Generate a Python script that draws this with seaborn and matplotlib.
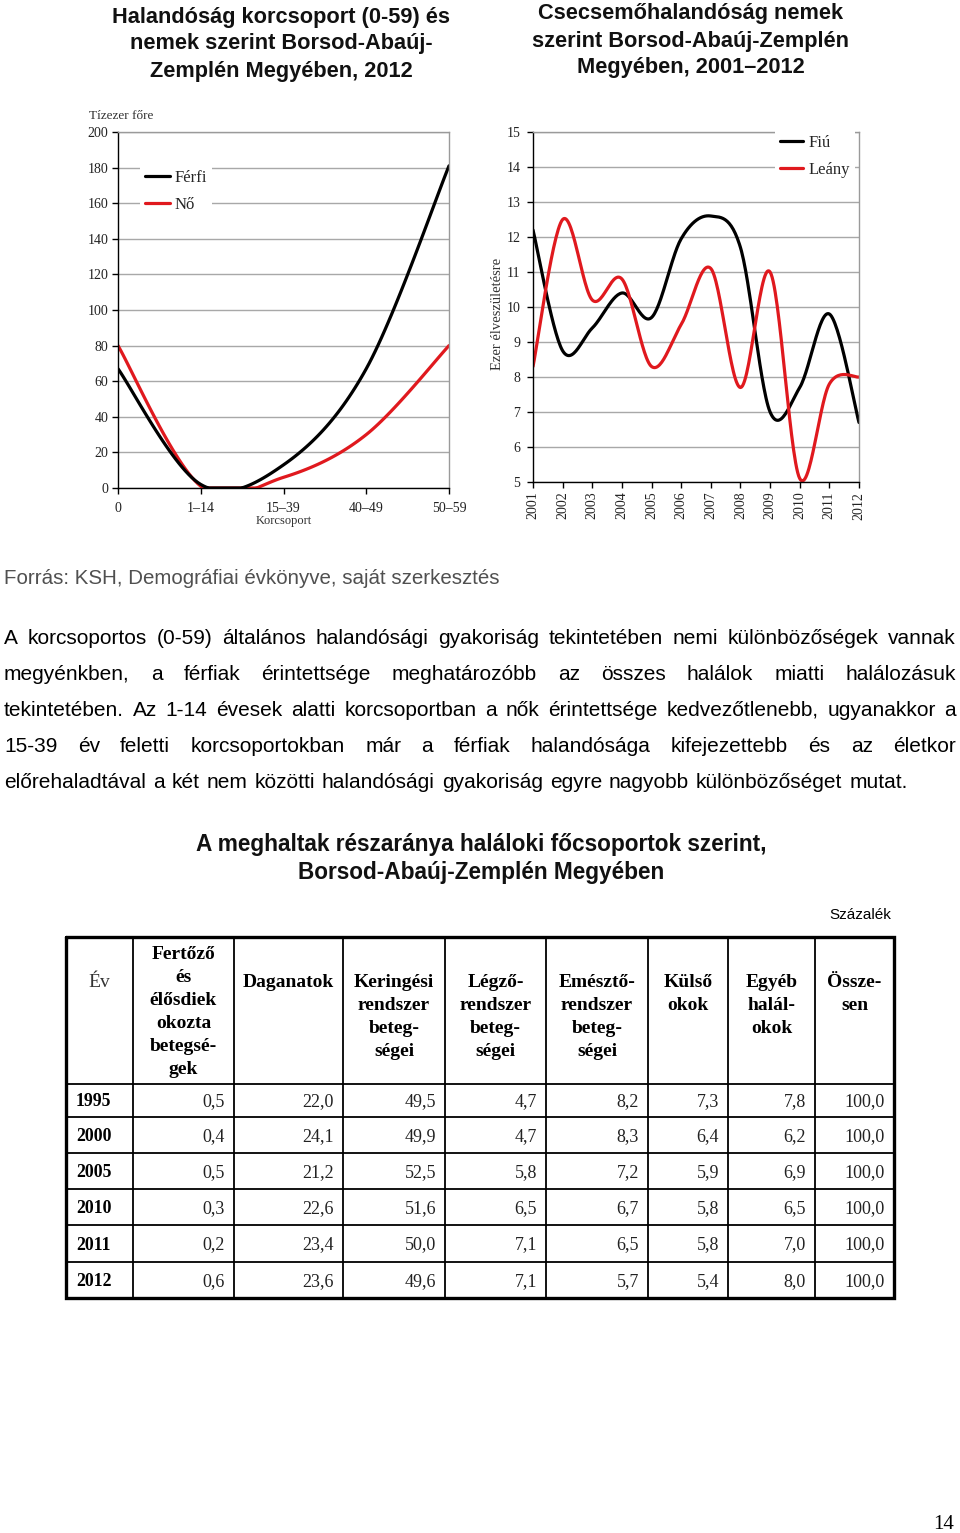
import numpy as np
import pandas as pd
import matplotlib
matplotlib.use("Agg")
import matplotlib.pyplot as plt
import seaborn as sns
from matplotlib.lines import Line2D

# ---------------- data ----------------
age_groups = ["0", "1–14", "15–39", "40–49", "50–59"]
ferfi = [67, 2, 13, 67, 181]
no_vals = [80, 1, 6, 30, 80]

years = [2001, 2002, 2003, 2004, 2005, 2006, 2007, 2008, 2009, 2010, 2011, 2012]
fiu = [12.2, 8.75, 9.4, 10.4, 9.7, 11.95, 12.6, 11.7, 7.0, 7.7, 9.8, 6.7]
leany = [8.3, 12.5, 10.2, 10.8, 8.3, 9.5, 11.1, 7.7, 11.0, 5.1, 7.8, 8.0]

table_years = ["1995", "2000", "2005", "2010", "2011", "2012"]
fertozo = [0.5, 0.4, 0.5, 0.3, 0.2, 0.6]
daganatok = [22.0, 24.1, 21.2, 22.6, 23.4, 23.6]
keringesi = [49.5, 49.9, 52.5, 51.6, 50.0, 49.6]
legzo = [4.7, 4.7, 5.8, 6.5, 7.1, 7.1]
emeszto = [8.2, 8.3, 7.2, 6.7, 6.5, 5.7]
kulso = [7.3, 6.4, 5.9, 5.8, 5.8, 5.4]
egyeb = [7.8, 6.2, 6.9, 6.5, 7.0, 8.0]
osszesen = [100.0, 100.0, 100.0, 100.0, 100.0, 100.0]

header_labels = [
    ["Év"],
    ["Fertőző", "és", "élősdiek", "okozta", "betegsé-", "gek"],
    ["Daganatok"],
    ["Keringési", "rendszer", "beteg-", "ségei"],
    ["Légző-", "rendszer", "beteg-", "ségei"],
    ["Emésztő-", "rendszer", "beteg-", "ségei"],
    ["Külső", "okok"],
    ["Egyéb", "halál-", "okok"],
    ["Össze-", "sen"],
]

paragraph = [
    "A korcsoportos (0-59) általános halandósági gyakoriság tekintetében nemi különbözőségek vannak",
    "megyénkben, a férfiak érintettsége meghatározóbb az összes halálok miatti halálozásuk",
    "tekintetében. Az 1-14 évesek alatti korcsoportban a nők érintettsége kedvezőtlenebb, ugyanakkor a",
    "15-39 év feletti korcsoportokban már a férfiak halandósága kifejezettebb és az életkor",
    "előrehaladtával a két nem közötti halandósági gyakoriság egyre nagyobb különbözőséget mutat.",
]

# ---------------- style ----------------
sns.set_theme(style="white")
SERIF = ["Liberation Serif", "DejaVu Serif"]
SANS = ["Liberation Sans", "DejaVu Sans"]
plt.rcParams["font.family"] = SERIF
RED = "#e0191e"
GRID = "#a8a8a8"


def smooth(xs, ys, n=30):
    """Excel-like smoothed line (Catmull-Rom bezier) through the data points."""
    P = np.column_stack([np.asarray(xs, float), np.asarray(ys, float)])
    m = len(P)
    out = []
    for i in range(m - 1):
        p0 = P[i - 1] if i > 0 else P[i]
        p1, p2 = P[i], P[i + 1]
        p3 = P[i + 2] if i + 2 < m else P[i + 1]
        c1 = p1 + (p2 - p0) / 6
        c2 = p2 - (p3 - p1) / 6
        t = np.linspace(0, 1, n)[:, None]
        seg = (1 - t) ** 3 * p1 + 3 * (1 - t) ** 2 * t * c1 + 3 * (1 - t) * t ** 2 * c2 + t ** 3 * p2
        out.append(seg if i == 0 else seg[1:])
    s = np.vstack(out)
    return s[:, 0], s[:, 1]


W, H = 960, 1533
fig = plt.figure(figsize=(W / 100, H / 100), dpi=100)
fig.patch.set_facecolor("white")

bg = fig.add_axes([0, 0, 1, 1])
bg.set_xlim(0, W)
bg.set_ylim(H, 0)
bg.axis("off")


def fig_rect(x0, y0, x1, y1):
    return [x0 / W, 1 - y1 / H, (x1 - x0) / W, (y1 - y0) / H]


def style_axes(ax):
    for s in ["left", "bottom"]:
        ax.spines[s].set_color("black")
        ax.spines[s].set_linewidth(1.0)
    for s in ["top", "right"]:
        ax.spines[s].set_color("#9a9a9a")
        ax.spines[s].set_linewidth(1.0)
    ax.grid(axis="y", color=GRID, lw=1.0)
    ax.grid(axis="x", visible=False)
    ax.set_axisbelow(True)
    ax.tick_params(axis="both", which="both", direction="out", length=4, width=1,
                   color="black", labelsize=10, labelcolor="#222222", bottom=True, left=True)


LEG_KW = dict(loc="upper left", bbox_transform=fig.transFigure, frameon=True,
              facecolor="white", edgecolor="none", framealpha=1, fancybox=False,
              fontsize=12, handletextpad=0.3, labelspacing=0.68, borderpad=0.3,
              borderaxespad=0)

# ---------------- left chart ----------------
ax1 = fig.add_axes(fig_rect(118, 132, 449, 488))
xpos = np.arange(len(age_groups))
sx, sy = smooth(xpos, ferfi)
df_f = pd.DataFrame({"x": sx, "y": np.maximum(sy, 0)})
sx, sy = smooth(xpos, no_vals)
df_n = pd.DataFrame({"x": sx, "y": np.maximum(sy, 0)})
sns.lineplot(data=df_n, x="x", y="y", ax=ax1, color=RED, lw=2.3, sort=False, estimator=None)
sns.lineplot(data=df_f, x="x", y="y", ax=ax1, color="black", lw=2.3, sort=False, estimator=None)
ax1.set_xlim(0, 4)
ax1.set_ylim(0, 200)
ax1.set_yticks(np.arange(0, 201, 20))
ax1.set_xticks(xpos)
ax1.set_xticklabels(age_groups)
style_axes(ax1)
ax1.tick_params(axis="y", pad=3)
ax1.tick_params(axis="x", pad=6)
ax1.set_xlabel("Korcsoport", fontsize=9, labelpad=0, color="#333333")
ax1.set_ylabel("")
ax1.text(-0.088, 1.045, "Tízezer főre", transform=ax1.transAxes, ha="left", va="center",
         fontsize=9.5, color="#333333")
h1 = [Line2D([], [], color="black", lw=2.3), Line2D([], [], color=RED, lw=2.3)]
ax1.legend(h1, ["Férfi", "Nő"], bbox_to_anchor=(140 / W, 1 - 165 / H), handlelength=1.5,
           **LEG_KW)

# ---------------- right chart ----------------
ax2 = fig.add_axes(fig_rect(533, 132, 859, 482))
sx, sy = smooth(years, fiu)
df_b = pd.DataFrame({"x": sx, "y": sy})
sx, sy = smooth(years, leany)
df_g = pd.DataFrame({"x": sx, "y": sy})
sns.lineplot(data=df_b, x="x", y="y", ax=ax2, color="black", lw=2.3, sort=False, estimator=None)
sns.lineplot(data=df_g, x="x", y="y", ax=ax2, color=RED, lw=2.3, sort=False, estimator=None)
ax2.set_xlim(2001, 2012)
ax2.set_ylim(5, 15)
ax2.set_yticks(np.arange(5, 16, 1))
ax2.set_xticks(years)
ax2.set_xticklabels([str(y) for y in years], rotation=90)
style_axes(ax2)
ax2.tick_params(axis="y", pad=5)
ax2.tick_params(axis="x", pad=3)
ax2.set_xlabel("")
ax2.set_ylabel("Ezer élveszületésre", fontsize=10.5, color="#333333")
ax2.yaxis.set_label_coords(-0.088, 0.48)
h2 = [Line2D([], [], color="black", lw=2.3), Line2D([], [], color=RED, lw=2.3)]
ax2.legend(h2, ["Fiú", "Leány"], bbox_to_anchor=(775 / W, 1 - 130 / H), handlelength=1.4,
           **LEG_KW)

# ---------------- titles ----------------
t_left = ["Halandóság korcsoport (0-59) és", "nemek szerint Borsod-Abaúj-", "Zemplén Megyében, 2012"]
for s, y in zip(t_left, [16, 42, 69]):
    bg.text(281, y + 7.5, s, ha="center", va="baseline", fontsize=15.7, fontweight="bold",
            family=SANS, color="#111111")
t_right = ["Csecsemőhalandóság nemek", "szerint Borsod-Abaúj-Zemplén", "Megyében, 2001–2012"]
for s, y in zip(t_right, [12, 39, 65]):
    bg.text(691, y + 7.5, s, ha="center", va="baseline", fontsize=15.7, fontweight="bold",
            family=SANS, color="#111111")

bg.text(4, 584, "Forrás: KSH, Demográfiai évkönyve, saját szerkesztés", ha="left", va="baseline",
        fontsize=14.8, family=SANS, color="#505050")

# ---------------- justified paragraph ----------------
renderer = fig.canvas.get_renderer()
para_y = [637, 673, 709, 745, 781]
X0, X1 = 4, 956
for i, (line, y) in enumerate(zip(paragraph, para_y)):
    words = line.split(" ")
    texts = [bg.text(0, y + 7, w, ha="left", va="baseline", fontsize=15, family=SANS,
                     color="black") for w in words]
    widths = [t.get_window_extent(renderer).width for t in texts]
    if i < len(paragraph) - 1:
        gap = (X1 - X0 - sum(widths)) / (len(words) - 1)
    else:
        gap = 0.278 * 15 * 100 / 72 + 1.2
    x = X0
    for t, w in zip(texts, widths):
        t.set_x(x)
        x += w + gap

# ---------------- table ----------------
bg.text(481, 843 + 7.5, "A meghaltak részaránya haláloki főcsoportok szerint,", ha="center",
        va="baseline", fontsize=16.3, fontweight="bold", family=SANS, color="#111111")
bg.text(481, 871 + 7.5, "Borsod-Abaúj-Zemplén Megyében", ha="center",
        va="baseline", fontsize=16.3, fontweight="bold", family=SANS, color="#111111")
bg.text(891, 914 + 5, "Százalék", ha="right", va="baseline", fontsize=11, family=SANS,
        color="black")

col_x = [66, 133, 234, 343, 445, 546, 648, 728, 815, 894]
row_y = [937, 1084, 1117, 1153, 1189, 1225, 1262, 1298]
for x in col_x[1:-1]:
    bg.plot([x, x], [row_y[0], row_y[-1]], color="black", lw=1.3, solid_capstyle="butt")
for y in row_y[1:-1]:
    bg.plot([col_x[0], col_x[-1]], [y, y], color="black", lw=1.3, solid_capstyle="butt")
bg.plot([col_x[0], col_x[-1], col_x[-1], col_x[0], col_x[0]],
        [row_y[0], row_y[0], row_y[-1], row_y[-1], row_y[0]], color="black", lw=2.4,
        solid_joinstyle="miter")

for c, lines in enumerate(header_labels):
    cx = (col_x[c] + col_x[c + 1]) / 2
    y0 = 953 if c == 1 else 981
    for k, s in enumerate(lines):
        if c == 0:
            bg.text(cx, y0 + 6 + 23 * k, s, ha="center", va="baseline", fontsize=14,
                    color="#333333")
        else:
            bg.text(cx, y0 + 6 + 23 * k, s, ha="center", va="baseline", fontsize=14,
                    fontweight="bold", color="black")

columns = [fertozo, daganatok, keringesi, legzo, emeszto, kulso, egyeb, osszesen]
for r, yr in enumerate(table_years):
    cy = (row_y[r + 1] + row_y[r + 2]) / 2
    bg.text(76, cy + 6, yr, ha="left", va="baseline", fontsize=12.8, fontweight="bold",
            color="black")
    for c, col in enumerate(columns):
        s = f"{col[r]:.1f}".replace(".", ",")
        bg.text(col_x[c + 2] - 9, cy + 6, s, ha="right", va="baseline", fontsize=13,
                color="#222222")

bg.text(944, 1522 + 7, "14", ha="center", va="baseline", fontsize=15, color="black")

fig.savefig("out.png", dpi=100, facecolor="white")
